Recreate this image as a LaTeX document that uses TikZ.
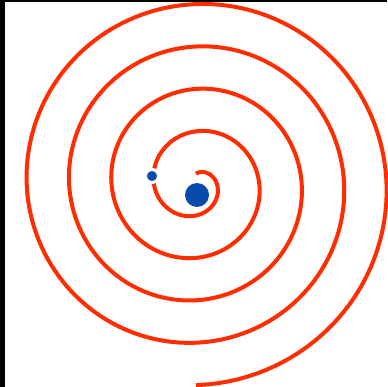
\documentclass[tikz,border=0pt]{standalone}
\definecolor{spiralred}{RGB}{255,45,0}
\definecolor{dotblue}{RGB}{8,75,170}
\begin{document}
\begin{tikzpicture}[x=1pt,y=-1pt,
  spiralline/.style={draw=spiralred,line width=4pt},
  bigdot/.style={circle,fill=dotblue,minimum size=24pt,inner sep=0pt},
  smalldot/.style={circle,fill=dotblue,draw=white,line width=3pt,minimum size=13pt,inner sep=0pt}]
  \useasboundingbox[fill=white] (0,0) rectangle (387,387);
  \fill[black] (0,0) rectangle (5,387);
  \fill[black] (0,0) rectangle (387,2);
  \draw[spiralline] plot[domain=0:1620,samples=500,smooth]
    ({196+(10.3+0.11778*\x)*sin(\x)},{184-(10.3+0.11778*\x)*cos(\x)});
  \node[bigdot] (core) at (197,195){};
  \node[smalldot] (probe) at (152,176){};
\end{tikzpicture}
\end{document}
